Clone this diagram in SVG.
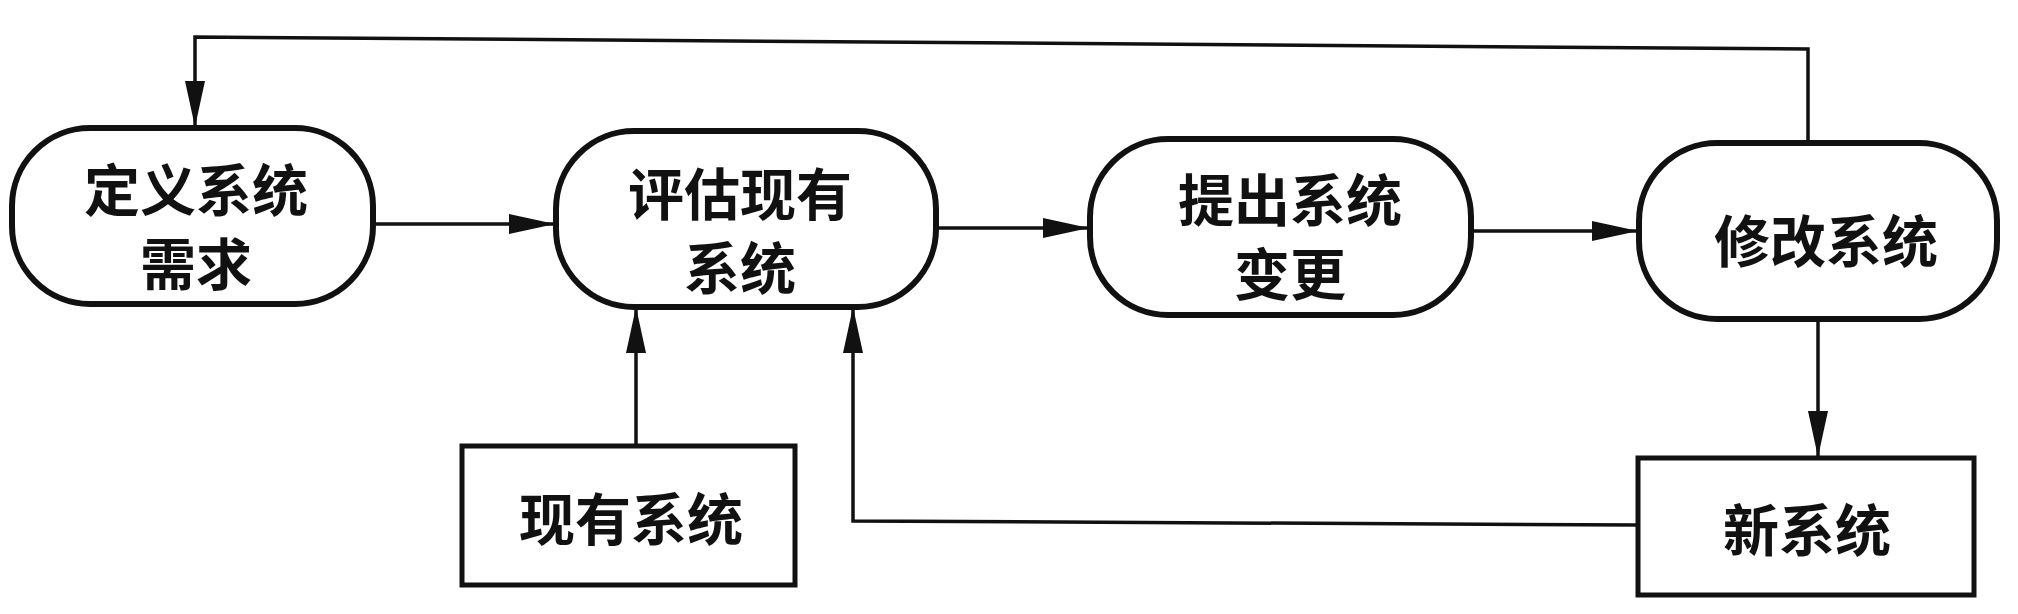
<svg xmlns="http://www.w3.org/2000/svg" width="2018" height="614" viewBox="0 0 2018 614">
<defs>
<marker id="ah" viewBox="0 0 46 20" refX="46" refY="10" markerWidth="46" markerHeight="20" markerUnits="userSpaceOnUse" orient="auto">
<path d="M0,0 L46,10 L0,20 Z" fill="#111"/>
</marker>
</defs>
<style>
.node{fill:#fff;stroke:#111;stroke-width:6}
.box{fill:#fff;stroke:#111;stroke-width:5}
.lbl{font-family:"Noto Sans CJK SC","Noto Sans CJK TC",sans-serif;font-weight:bold;font-size:56px;fill:#111;text-anchor:middle;dominant-baseline:central}
.con{fill:none;stroke:#111;stroke-width:3.5}
</style>
<rect width="2018" height="614" fill="#fff"/>
<g id="connectors">
<path class="con" d="M1808,143 L1808,49 L195,37 L195,127" marker-end="url(#ah)"/>
<path class="con" d="M373,224 L555,224" marker-end="url(#ah)"/>
<path class="con" d="M936,228 L1089,228" marker-end="url(#ah)"/>
<path class="con" d="M1471,231 L1638,231" marker-end="url(#ah)"/>
<path class="con" d="M1818,319 L1818,457" marker-end="url(#ah)"/>
<path class="con" d="M636,446 L636,307" marker-end="url(#ah)"/>
<path class="con" d="M1638,525 L853,521 L853,307" marker-end="url(#ah)"/>
</g>
<g id="n1">
<rect class="node" x="12" y="128" width="361" height="176" rx="78" ry="78"/>
<text class="lbl" x="196" y="186">定义系统</text>
<text class="lbl" x="196" y="260">需求</text>
</g>
<g id="n2">
<rect class="node" x="556" y="131" width="380" height="176" rx="78" ry="78"/>
<text class="lbl" x="740" y="190">评估现有</text>
<text class="lbl" x="740" y="264">系统</text>
</g>
<g id="n3">
<rect class="node" x="1090" y="139" width="381" height="176" rx="78" ry="78"/>
<text class="lbl" x="1290" y="196">提出系统</text>
<text class="lbl" x="1290" y="270">变更</text>
</g>
<g id="n4">
<rect class="node" x="1639" y="143" width="358" height="176" rx="78" ry="78"/>
<text class="lbl" x="1826" y="237">修改系统</text>
</g>
<g id="n5">
<rect class="box" x="462" y="446" width="333" height="139"/>
<text class="lbl" x="631" y="515">现有系统</text>
</g>
<g id="n6">
<rect class="box" x="1638" y="458" width="336" height="137"/>
<text class="lbl" x="1807" y="526">新系统</text>
</g>
</svg>
